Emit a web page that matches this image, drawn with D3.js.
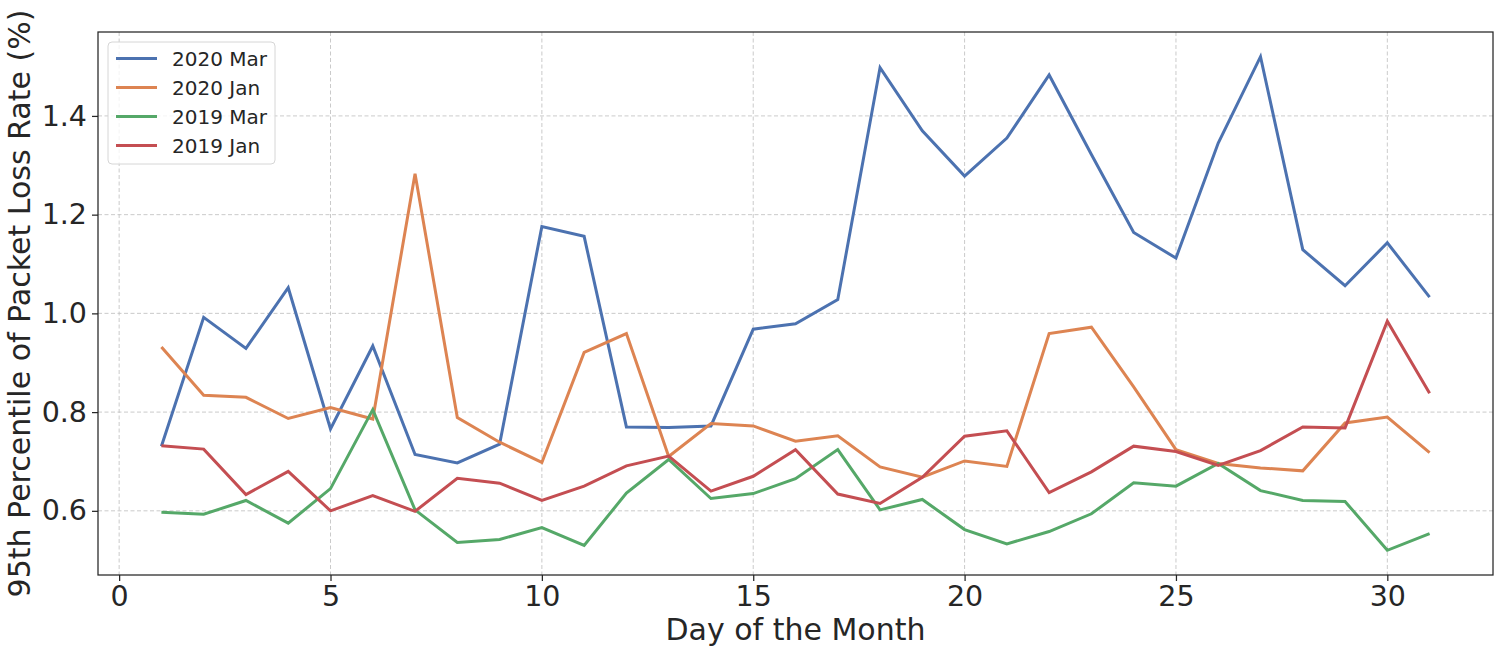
<!DOCTYPE html>
<html>
<head>
<meta charset="utf-8">
<title>95th Percentile of Packet Loss Rate</title>
<script src="https://d3js.org/d3.v7.min.js"></script>
<style>
  body { margin: 0; background: #fff; }
  text { font-family: "DejaVu Sans", sans-serif; fill: #262626; }
</style>
</head>
<body>
<script>
var days = d3.range(1, 32);

var mar2020 = [0.731, 0.992, 0.929, 1.052, 0.766, 0.934, 0.714, 0.697, 0.735, 1.176,
               1.156, 0.770, 0.769, 0.772, 0.968, 0.979, 1.028, 1.498, 1.370, 1.278,
               1.355, 1.483, 1.322, 1.164, 1.112, 1.345, 1.520, 1.129, 1.056, 1.143, 1.033];
var jan2020 = [0.932, 0.834, 0.830, 0.787, 0.809, 0.786, 1.283, 0.789, 0.739, 0.698,
               0.921, 0.959, 0.710, 0.777, 0.772, 0.741, 0.752, 0.689, 0.668, 0.701,
               0.690, 0.959, 0.972, 0.851, 0.724, 0.696, 0.687, 0.681, 0.778, 0.790, 0.718];
var mar2019 = [0.597, 0.593, 0.621, 0.575, 0.645, 0.805, 0.602, 0.536, 0.542, 0.566,
               0.530, 0.636, 0.704, 0.625, 0.635, 0.665, 0.724, 0.602, 0.623, 0.562,
               0.533, 0.558, 0.594, 0.657, 0.650, 0.696, 0.641, 0.621, 0.619, 0.520, 0.554];
var jan2019 = [0.732, 0.725, 0.633, 0.680, 0.600, 0.631, 0.599, 0.666, 0.656, 0.621,
               0.650, 0.691, 0.711, 0.640, 0.670, 0.724, 0.634, 0.615, 0.668, 0.751,
               0.762, 0.637, 0.679, 0.731, 0.720, 0.692, 0.722, 0.770, 0.768, 0.984, 0.838];

var seriesNames = ["2020 Mar", "2020 Jan", "2019 Mar", "2019 Jan"];
var seriesValues = [mar2020, jan2020, mar2019, jan2019];
var colors = ["#4c72b0", "#dd8452", "#55a868", "#c44e52"];

var xTicks = [0, 5, 10, 15, 20, 25, 30];
var yTicks = [0.6, 0.8, 1.0, 1.2, 1.4];

var W = 1505, H = 654;
var plotL = 98, plotR = 1493, plotT = 32, plotB = 575;

var svg = d3.select("body").append("svg").attr("width", W).attr("height", H);

var x = d3.scaleLinear().domain([-0.5, 32.5]).range([plotL, plotR]);
var y = d3.scaleLinear().domain([0.47, 1.57]).range([plotB, plotT]);

// grid
svg.append("g").selectAll("line").data(xTicks).enter().append("line")
    .attr("x1", function (d) { return x(d); }).attr("x2", function (d) { return x(d); })
    .attr("y1", plotT).attr("y2", plotB)
    .attr("stroke", "#c4c4c4").attr("stroke-width", 0.9).attr("stroke-dasharray", "4,2.5");
svg.append("g").selectAll("line").data(yTicks).enter().append("line")
    .attr("x1", plotL).attr("x2", plotR)
    .attr("y1", function (d) { return y(d); }).attr("y2", function (d) { return y(d); })
    .attr("stroke", "#c4c4c4").attr("stroke-width", 0.9).attr("stroke-dasharray", "4,2.5");

// lines
var line = d3.line()
    .x(function (d, i) { return x(days[i]); })
    .y(function (d) { return y(d); });

seriesValues.forEach(function (vals, k) {
    svg.append("path").datum(vals)
        .attr("d", line)
        .attr("fill", "none")
        .attr("stroke", colors[k])
        .attr("stroke-width", 3)
        .attr("stroke-linejoin", "miter");
});

// axes
var xAxis = svg.append("g").attr("transform", "translate(0," + plotB + ")")
    .call(d3.axisBottom(x).tickValues(xTicks).tickFormat(d3.format("d")).tickSize(6).tickPadding(5));
var yAxis = svg.append("g").attr("transform", "translate(" + plotL + ",0)")
    .call(d3.axisLeft(y).tickValues(yTicks).tickFormat(d3.format(".1f")).tickSize(6).tickPadding(5));

[xAxis, yAxis].forEach(function (g) {
    g.select(".domain").remove();
    g.selectAll(".tick line").attr("stroke", "#262626").attr("stroke-width", 1.25);
    g.selectAll(".tick text").style("font-family", "DejaVu Sans, sans-serif")
        .style("font-size", "28.5px").attr("fill", "#262626");
});

// frame
svg.append("rect").attr("x", plotL).attr("y", plotT)
    .attr("width", plotR - plotL).attr("height", plotB - plotT)
    .attr("fill", "none").attr("stroke", "#262626").attr("stroke-width", 1.25);

// labels
svg.append("text").attr("x", (plotL + plotR) / 2).attr("y", 640)
    .attr("text-anchor", "middle").style("font-size", "30px")
    .text("Day of the Month");
svg.append("text")
    .attr("transform", "translate(30," + ((plotT + plotB) / 2) + ") rotate(-90)")
    .attr("text-anchor", "middle").style("font-size", "30px")
    .text("95th Percentile of Packet Loss Rate (%)");

// legend
var lg = svg.append("g").attr("transform", "translate(108,42)");
lg.append("rect").attr("width", 167).attr("height", 122).attr("rx", 4)
    .attr("fill", "#fff").attr("fill-opacity", 0.8)
    .attr("stroke", "#d6d6d6").attr("stroke-width", 1);
seriesNames.forEach(function (name, k) {
    var cy = 16.5 + k * 29;
    lg.append("line").attr("x1", 8).attr("x2", 49).attr("y1", cy).attr("y2", cy)
        .attr("stroke", colors[k]).attr("stroke-width", 3);
    lg.append("text").attr("x", 64).attr("y", cy + 7)
        .style("font-size", "20px").text(name);
});
</script>
</body>
</html>
